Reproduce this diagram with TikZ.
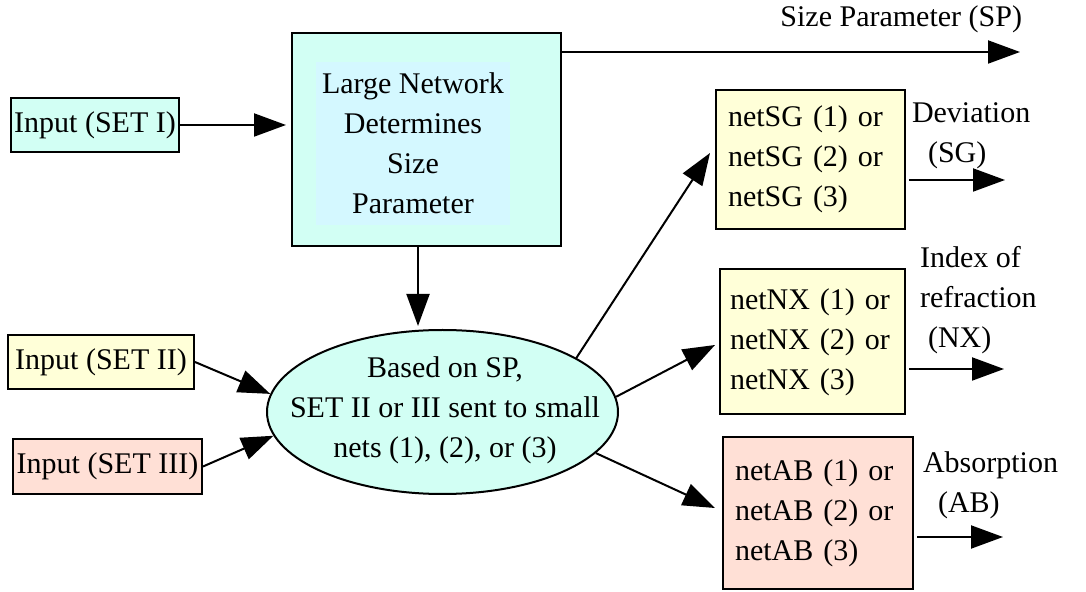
\documentclass[tikz,border=0pt]{standalone}
\usepackage{fontspec}
\setmainfont{Liberation Serif}
\usepackage{tikz}
\usetikzlibrary{arrows.meta,shapes.geometric}

\definecolor{cyanbox}{RGB}{210,255,244}
\definecolor{cyantext}{RGB}{212,248,255}
\definecolor{yellowbox}{RGB}{255,255,216}
\definecolor{pinkbox}{RGB}{255,224,214}

\begin{document}
\begin{tikzpicture}[x=0.5pt, y=-0.5pt, line width=1pt,
  >={Triangle[length=16pt,width=11.5pt]},
  txt/.style = {font=\fontsize{15}{20}\selectfont, inner sep=0pt},
  main/.style = {draw, txt, inner sep=1pt},
  net/.style = {main, align=left, inner xsep=6pt}]
\useasboundingbox (0,0) rectangle (1086,592);

% inputs
\node[main, fill=cyanbox, minimum width=84pt, minimum height=27pt] (1) at (95,125) {Input (SET I)};
\node[main, fill=yellowbox, minimum width=93pt, minimum height=27pt] (2) at (101,362) {Input (SET II)};
\node[main, fill=pinkbox, minimum width=94.5pt, minimum height=27.5pt] (3) at (107.5,466.5) {Input (SET III)};

% large network
\node[main, fill=cyanbox, minimum width=134.5pt, minimum height=106.5pt] (4) at (426.5,139.5) {};
\node[txt, fill=cyantext, align=center, minimum width=97pt, minimum height=81.5pt] (5) at (413,143.5)
  {Large Network\\Determines\\Size\\Parameter};

% selector
\node[draw, ellipse, fill=cyanbox, minimum width=175.5pt, minimum height=82pt, inner sep=0pt] (6) at (442.5,412) {};
\node[txt, align=center] (7) at (445,410.5) {Based on SP,\\SET II or III sent to small\\nets (1), (2), or (3)};

% small nets
\node[net, fill=yellowbox, text width=82.5pt, minimum height=69.5pt] (8) at (810.5,159.5) {netSG (1) or\\netSG (2) or\\netSG (3)};
\node[net, fill=yellowbox, text width=82.5pt, inner xsep=5pt, minimum height=72.5pt] (9) at (812.5,342) {netNX (1) or\\netNX (2) or\\netNX (3)};
\node[net, fill=pinkbox, text width=83pt, minimum height=76pt] (10) at (818,513) {netAB (1) or\\netAB (2) or\\netAB (3)};

% outputs
\node[txt, anchor=base east] (11) at (1023,27) {Size Parameter (SP)};
\node[txt, anchor=base west, align=left] (12) at (911,163) {Deviation\\\hspace*{8pt}(SG)};
\node[txt, anchor=base west, align=left] (13) at (919,348) {Index of\\refraction\\\hspace*{4pt}(NX)};
\node[txt, anchor=base west, align=left] (14) at (922,512) {Absorption\\\hspace*{7.5pt}(AB)};

\coordinate (sp) at (1020,52);
\coordinate (sg) at (1005,180);
\coordinate (nx) at (1004,369);
\coordinate (ab) at (1003,537);

\draw[->, shorten >=2.5pt] (1.east) -- (1.east -| 4.west);
\draw[->] (4.east |- sp) -- (sp);
\draw[->, shorten >=1.5pt] ([xshift=-4.25pt]4.south) -- ([xshift=-4.25pt]4.south |- 6.north);
\draw[->] (2.east) -- (6.174);
\draw[->] (3.east) -- (6.188);
\draw[->] (6.22) -- ([xshift=-2.5pt,yshift=3.25pt]8.west);
\draw[->] (6.5) -- ([xshift=-2pt,yshift=-1.5pt]9.west);
\draw[->] (6.-15) -- ([xshift=-3.5pt,yshift=2.5pt]10.west);
\draw[->, shorten <=1.5pt] (8.east |- sg) -- (sg);
\draw[->, shorten <=1.5pt] (9.east |- nx) -- (nx);
\draw[->, shorten <=1.5pt] (10.east |- ab) -- (ab);

\end{tikzpicture}
\end{document}
